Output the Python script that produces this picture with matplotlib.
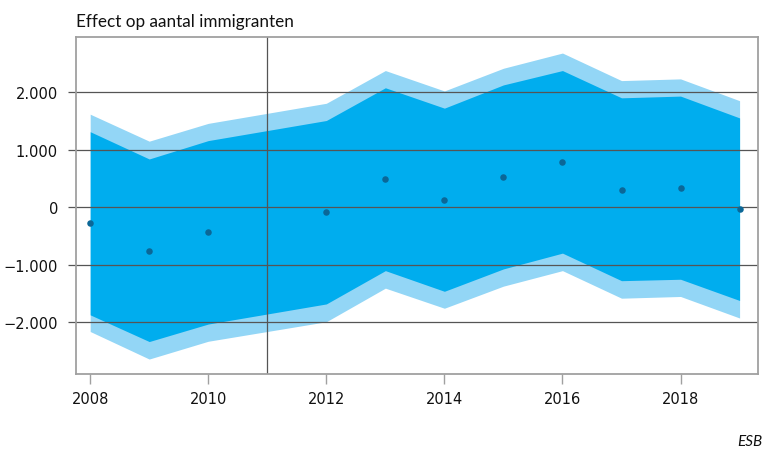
import matplotlib
matplotlib.use("Agg")
import matplotlib.pyplot as plt
from matplotlib.ticker import FixedLocator

plt.rcParams['font.family'] = ['Lato', 'DejaVu Sans']

# jaren (2011 ontbreekt)
years = [2008, 2009, 2010, 2012, 2013, 2014, 2015, 2016, 2017, 2018, 2019]

effect = [-275, -755, -435, -90, 495, 125, 520, 795, 305, 340, -40]

inner_hi = [1315, 840, 1160, 1510, 2080, 1725, 2130, 2380, 1905, 1935, 1555]
inner_lo = [-1875, -2340, -2035, -1685, -1105, -1465, -1075, -800, -1280, -1255, -1625]
outer_hi = [1620, 1150, 1460, 1810, 2380, 2025, 2420, 2685, 2205, 2235, 1855]
outer_lo = [-2165, -2645, -2335, -1995, -1410, -1760, -1375, -1105, -1585, -1555, -1930]

yticks = [-2000, -1000, 0, 1000, 2000]
ylabels = ["\u22122.000", "\u22121.000", "0", "1.000", "2.000"]
xticks = [2008, 2010, 2012, 2014, 2016, 2018]
break_year = 2011

title = "Effect op aantal immigranten"
source = "ESB"

grid_col = "#555555"
frame_col = "#a0a0a0"

fig = plt.figure(figsize=(7.64, 4.52), dpi=100)
ax = fig.add_axes([0.0995, 0.1704, 0.8925, 0.7456])

ax.fill_between(years, outer_lo, outer_hi, color="#93d6f6", lw=0, zorder=1)
ax.fill_between(years, inner_lo, inner_hi, color="#00adee", lw=0, zorder=2)

for y in yticks:
    ax.axhline(y, color=grid_col, lw=0.9, zorder=3)
ax.axvline(break_year, color=grid_col, lw=0.9, zorder=3)

ax.scatter(years, effect, s=22, color="#0b6797", zorder=4, lw=0)

ax.set_xlim(2007.76, 2019.31)
ax.set_ylim(-2905, 2965)

ax.yaxis.set_major_locator(FixedLocator(yticks))
ax.set_yticklabels(ylabels, family='DejaVu Sans')
ax.set_xticks(xticks)
ax.set_xticklabels([str(x) for x in xticks], family='DejaVu Sans')

ax.tick_params(axis='y', length=6, width=0.9, color=grid_col, pad=7,
               labelsize=10.5, labelcolor="#111111")
ax.tick_params(axis='x', length=7, width=1.0, color=frame_col, pad=5,
               labelsize=10.5, labelcolor="#111111")

for s in ax.spines.values():
    s.set_color(frame_col)
    s.set_linewidth(1.3)
    s.set_zorder(5)

fig.text(76 / 764, 1 - 22 / 452, title, fontsize=12.3, color="#111111",
         ha='left', va='center')
fig.text(762 / 764, 1 - 442 / 452, source, fontsize=11, style='italic',
         color="#111111", ha='right', va='center')

fig.savefig("out.png", dpi=100)
